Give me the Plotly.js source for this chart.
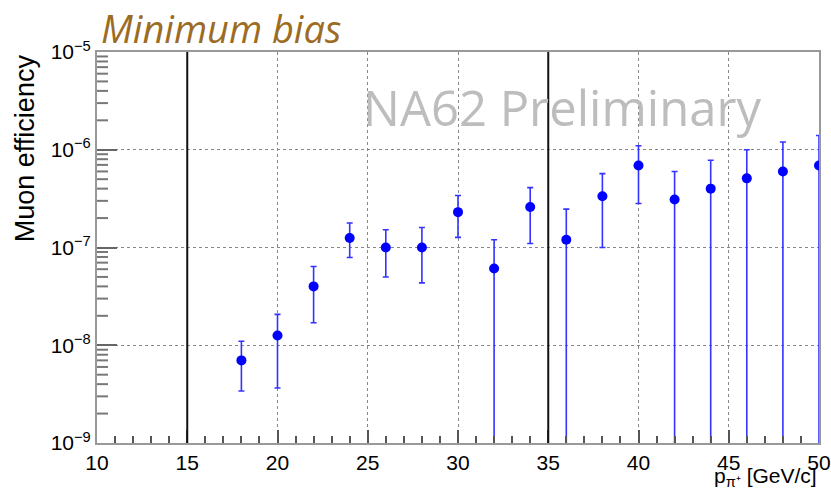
<!DOCTYPE html>
<html><head><meta charset="utf-8">
<script src="https://cdn.plot.ly/plotly-3.0.1.min.js"></script>
<style>html,body{margin:0;padding:0;background:#fff}#chart{width:831px;height:493px}</style>
</head><body><div id="chart"></div>
<script>
const momentum = [18, 20, 22, 24, 26, 28, 30, 32, 34, 36, 38, 40, 42, 44, 46, 48, 50];
const efficiency = [7.0e-9, 1.26e-8, 4.0e-8, 1.25e-7, 1.0e-7, 1.0e-7, 2.3e-7, 6.1e-8, 2.6e-7, 1.2e-7, 3.35e-7, 6.9e-7, 3.1e-7, 4.0e-7, 5.1e-7, 6.0e-7, 6.9e-7];
const errUp = [4.0e-9, 8.1e-9, 2.4e-8, 5.3e-8, 5.2e-8, 6.0e-8, 1.1e-7, 5.9e-8, 1.5e-7, 1.27e-7, 2.35e-7, 4.1e-7, 2.9e-7, 3.8e-7, 4.9e-7, 6.0e-7, 7.1e-7];
const errDown = [3.6e-9, 8.95e-9, 2.3e-8, 4.6e-8, 5.0e-8, 5.65e-8, 1.03e-7, 6.1e-8, 1.5e-7, 1.2e-7, 2.35e-7, 4.08e-7, 3.1e-7, 4.0e-7, 5.1e-7, 6.0e-7, 6.9e-7];
const yTickVals = [1e-9, 1e-8, 1e-7, 1e-6, 1e-5];
const yTickText = ['10<sup>−9</sup>', '10<sup>−8</sup>', '10<sup>−7</sup>', '10<sup>−6</sup>', '10<sup>−5</sup>'];
const yMinorVals = [];
[1e-9, 1e-8, 1e-7, 1e-6].forEach(d => { for (let m = 2; m <= 9; m++) yMinorVals.push(m * d); });
const xTickVals = [10, 15, 20, 25, 30, 35, 40, 45, 50];
const cutLines = [15, 35];

const trace = {
  x: momentum, y: efficiency, type: 'scatter', mode: 'markers',
  marker: {color: '#0000ff', size: 10},
  error_y: {type: 'data', symmetric: false, array: errUp, arrayminus: errDown,
            color: '#3333ff', thickness: 1.6, width: 3},
  showlegend: false, hoverinfo: 'skip'
};

const plotW = 831 - 97 - 12;
const axisFont = {family: 'Liberation Sans, Arial, sans-serif', size: 21, color: '#000'};
const shapes = cutLines.map(v => ({type: 'line', xref: 'x', yref: 'paper', x0: v, x1: v, y0: 0, y1: 1,
    line: {color: '#111', width: 2}}));
yMinorVals.forEach(v => shapes.push({type: 'line', xref: 'paper', yref: 'y', x0: 0, x1: 11 / plotW, y0: v, y1: v,
    line: {color: '#777', width: 2}}));

const layout = {
  width: 831, height: 493,
  margin: {l: 97, r: 12, t: 52, b: 50},
  paper_bgcolor: '#fff', plot_bgcolor: '#fff',
  xaxis: {
    range: [10, 50], tickvals: xTickVals, ticktext: xTickVals.map(String),
    ticks: 'inside', ticklen: 13, tickwidth: 2, tickcolor: '#555',
    minor: {ticks: 'inside', ticklen: 7, tickwidth: 2, tickcolor: '#555', dtick: 1, showgrid: false},
    showgrid: true, gridcolor: '#888', griddash: 'dot', gridwidth: 1,
    showline: true, linecolor: '#999', linewidth: 2, mirror: true,
    zeroline: false, tickfont: axisFont
  },
  yaxis: {
    type: 'log', range: [-9, -5], tickmode: 'array', tickvals: yTickVals, ticktext: yTickText,
    ticks: 'inside', ticklen: 20, tickwidth: 2, tickcolor: '#666',
    showgrid: true, gridcolor: '#888', griddash: 'dot', gridwidth: 1,
    showline: true, linecolor: '#999', linewidth: 2, mirror: true,
    zeroline: false, tickfont: axisFont
  },
  shapes: shapes,
  annotations: [
    {text: '<i>Minimum bias</i>', xref: 'paper', yref: 'paper', x: 0.0, y: 1.0, xanchor: 'left', yanchor: 'bottom',
     xshift: 2, yshift: -4, showarrow: false, font: {family: 'Open Sans, sans-serif', size: 38, color: '#9c6b24'}},
    {text: 'NA62 Preliminary', xref: 'paper', yref: 'paper', x: 0.644, y: 0.859, xanchor: 'center', yanchor: 'middle',
     showarrow: false, font: {family: 'Open Sans, sans-serif', size: 49, color: '#bdbdbd'}},
    {text: 'Muon efficiency', xref: 'paper', yref: 'paper', x: -0.0997, y: 0.754, xanchor: 'center', yanchor: 'middle',
     textangle: -90, showarrow: false, font: {family: 'Liberation Sans, Arial, sans-serif', size: 27, color: '#000'}},
    {text: 'p<sub>π⁺</sub> [GeV/c]', xref: 'paper', yref: 'paper', x: 1.0, y: 0, xanchor: 'right', yanchor: 'top',
     yshift: -19, showarrow: false, font: {family: 'Liberation Sans, Arial, sans-serif', size: 21, color: '#000'}}
  ]
};
Plotly.newPlot('chart', [trace], layout, {staticPlot: true});
</script></body></html>
